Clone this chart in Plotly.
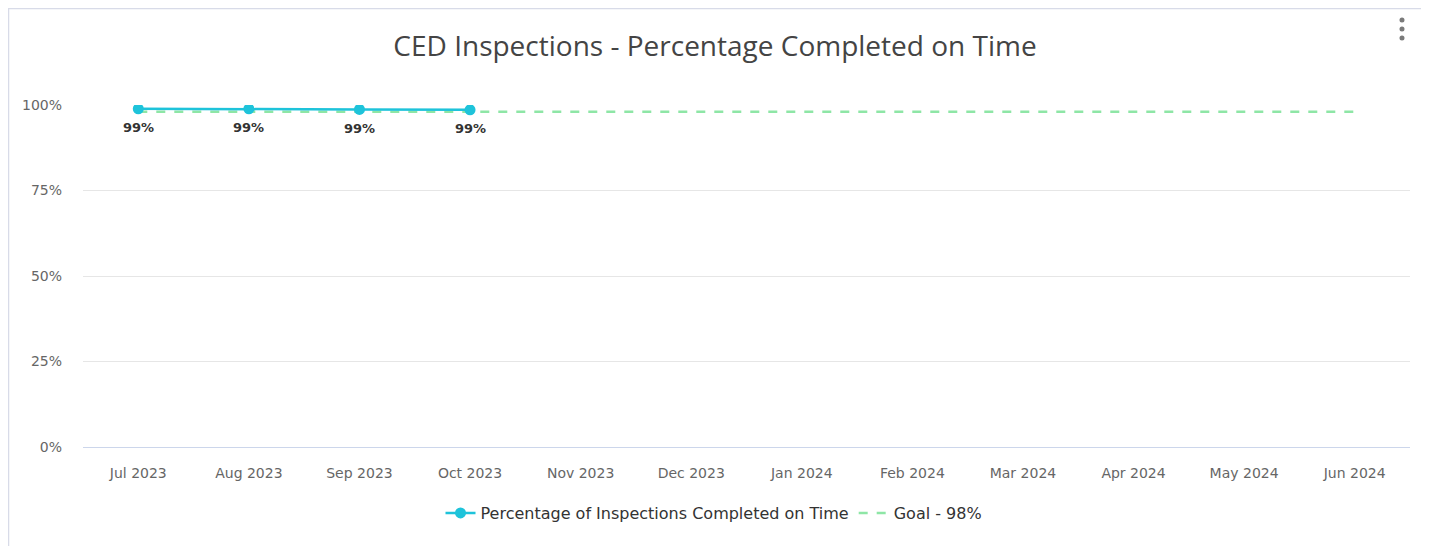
import plotly.graph_objects as go

months = ["Jul 2023", "Aug 2023", "Sep 2023", "Oct 2023", "Nov 2023", "Dec 2023",
          "Jan 2024", "Feb 2024", "Mar 2024", "Apr 2024", "May 2024", "Jun 2024"]
pct_on_time = [98.9, 98.9, 98.7, 98.6]
pct_labels = ["99%", "99%", "99%", "99%"]
goal = [98] * len(months)

# page body has an 8px margin, so figure coords = window coords - 8
OFF = 8
W, H = 1429, 546
L, T = 83 - OFF, 105 - OFF
pw, ph = 1327, 342
R, B = W - L - pw, H - T - ph

def px(x):
    return (x - OFF - L) / pw

def py(y):
    return (H - B - (y - OFF)) / ph

fig = go.Figure()
fig.add_trace(go.Scatter(
    x=months, y=goal, mode="lines", name="Goal - 98%",
    line=dict(color="#8ee6a6", width=2.5, dash="dash"),
))
fig.add_trace(go.Scatter(
    x=months[:len(pct_on_time)], y=pct_on_time, mode="lines+markers",
    name="Percentage of Inspections Completed on Time",
    line=dict(color="#1ec3da", width=2.5),
    marker=dict(size=11, color="#1ec3da"),
))

annotations = [dict(x=m, y=v, text=t, showarrow=False, yshift=-19,
                    font=dict(family="DejaVu Sans", size=13, weight=600, color="#333333"))
               for m, v, t in zip(months, pct_on_time, pct_labels)]

# card border and menu dots
shapes = [dict(type="rect", xref="paper", yref="paper",
               x0=px(8.5), x1=px(1424), y0=py(570), y1=py(8.5),
               line=dict(color="#d8dbe8", width=1.5), layer="below")]
for dy in (20, 29, 38):
    shapes.append(dict(type="circle", xref="paper", yref="paper",
                       x0=px(1399.5), x1=px(1404.5), y0=py(dy + 2.5), y1=py(dy - 2.5),
                       fillcolor="#7a7a7a", line=dict(width=0)))

fig.update_layout(
    width=W, height=H,
    margin=dict(l=L, r=R, t=T, b=B),
    paper_bgcolor="white", plot_bgcolor="white",
    title=dict(text="CED Inspections - Percentage Completed on Time",
               x=px(715), xanchor="center", xref="paper",
               y=1 - (46 - OFF) / H, yanchor="middle",
               font=dict(family="Open Sans", size=28, color="#444444")),
    xaxis=dict(type="category", categoryorder="array", categoryarray=months,
               range=[-0.5, 11.5], showgrid=False, showline=True,
               linecolor="#ccd6eb", linewidth=1, ticks="",
               ticklabelstandoff=13,
               tickfont=dict(family="DejaVu Sans", size=14, color="#666666")),
    yaxis=dict(range=[0, 100], tickvals=[0, 25, 50, 75, 100],
               ticktext=["0%", "25%", "50%", "75%", "100%"],
               showgrid=True, gridcolor="#e6e6e6", zeroline=False,
               ticklabelstandoff=20,
               tickfont=dict(family="DejaVu Sans", size=14, color="#666666")),
    legend=dict(orientation="h", x=px(714), xanchor="center", y=py(513), yanchor="middle",
                traceorder="reversed",
                font=dict(family="DejaVu Sans", size=16, color="#333333")),
    shapes=shapes,
    annotations=annotations,
)

fig.write_html("out.html")
